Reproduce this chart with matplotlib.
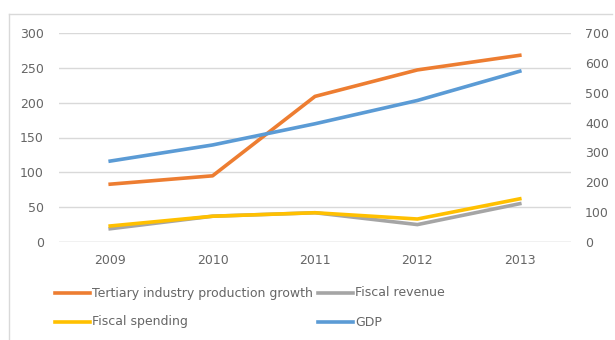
import matplotlib
matplotlib.use("Agg")
import matplotlib.pyplot as plt
from matplotlib.lines import Line2D

years = ["2009", "2010", "2011", "2012", "2013"]
tertiary = [83, 95, 209, 247, 268]
fiscal_revenue = [19, 37, 42, 25, 55]
fiscal_spending = [23, 37, 42, 33, 62]
gdp = [271, 325, 396, 474, 572]

left_ticks = [0, 50, 100, 150, 200, 250, 300]
right_ticks = [0, 100, 200, 300, 400, 500, 600, 700]

c_orange = "#ED7D31"
c_grey = "#A5A5A5"
c_yellow = "#FFC000"
c_blue = "#5B9BD5"
tc = "#666666"

W, H = 615, 340
fig = plt.figure(figsize=(W / 100, H / 100), dpi=100)
ax = fig.add_axes([59 / W, 1 - 242 / H, (571 - 59) / W, (242 - 33) / H])
ax2 = ax.twinx()

x = list(range(len(years)))
lw = 2.6
ax.plot(x, tertiary, color=c_orange, lw=lw, zorder=3)
ax.plot(x, fiscal_revenue, color=c_grey, lw=lw, zorder=3)
ax.plot(x, fiscal_spending, color=c_yellow, lw=lw, zorder=4)
ax2.plot(x, gdp, color=c_blue, lw=lw, zorder=3)

ax.set_xlim(-0.5, len(years) - 0.5)
ax.set_ylim(0, 300)
ax2.set_ylim(0, 700)
ax.set_yticks(left_ticks)
ax2.set_yticks(right_ticks)
ax.set_xticks(x)
ax.set_xticklabels(years)
ax.grid(axis="y", color="#D9D9D9", lw=1)
ax.set_axisbelow(True)
for a in (ax, ax2):
    for s in a.spines.values():
        s.set_visible(False)
    a.tick_params(length=0, labelsize=9, colors=tc)
ax.tick_params(axis="y", pad=11)
ax2.tick_params(axis="y", pad=10)
ax.tick_params(axis="x", pad=9)
ax.axhline(0, color="#D9D9D9", lw=1)

# legend (manual layout)
def leg(x0, y0, color, label):
    fig.add_artist(Line2D([x0 / W, (x0 + 35) / W], [1 - y0 / H, 1 - y0 / H],
                          color=color, lw=2.6, transform=fig.transFigure))
    fig.text((x0 + 37) / W, 1 - y0 / H, label, fontsize=9, color=tc,
             va="center", ha="left")

leg(55, 293, c_orange, "Tertiary industry production growth")
leg(318, 293, c_grey, "Fiscal revenue")
leg(55, 322, c_yellow, "Fiscal spending")
leg(318, 322, c_blue, "GDP")

# chart frame
fig.add_artist(Line2D([9 / W, 612 / W], [1 - 14 / H, 1 - 14 / H], color="#D9D9D9",
                      lw=1, transform=fig.transFigure))
fig.add_artist(Line2D([9 / W, 9 / W], [1 - 14 / H, 0], color="#D9D9D9",
                      lw=1, transform=fig.transFigure))

fig.savefig("out.png", dpi=100)
